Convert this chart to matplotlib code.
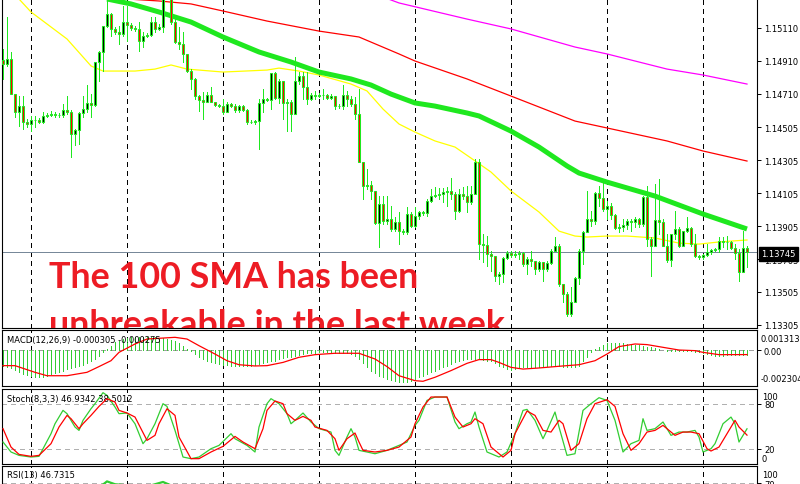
import numpy as np
import matplotlib
matplotlib.use("Agg")
import matplotlib.pyplot as plt

# ---------------- data ----------------
first_open = 1.14915
closes = [1.14891, 1.14921, 1.14708, 1.14599, 1.14635, 1.14538, 1.14526, 1.14550, 1.14550, 1.14538,
          1.14575, 1.14581, 1.14587, 1.14581, 1.14581, 1.14611, 1.14599, 1.14465, 1.14490, 1.14593,
          1.14617, 1.14654, 1.14642, 1.14903, 1.14964, 1.15122, 1.15195, 1.15104, 1.15085, 1.15073,
          1.15146, 1.15128, 1.15110, 1.15104, 1.15031, 1.15061, 1.15067, 1.15146, 1.15104, 1.15116,
          1.15335, 1.15359, 1.15146, 1.15025, 1.15012, 1.14952, 1.14848, 1.14800, 1.14696, 1.14672,
          1.14660, 1.14702, 1.14660, 1.14642, 1.14635, 1.14599, 1.14648, 1.14635, 1.14611, 1.14635,
          1.14611, 1.14538, 1.14538, 1.14544, 1.14654, 1.14678, 1.14672, 1.14836, 1.14684, 1.14787,
          1.14654, 1.14660, 1.14587, 1.14787, 1.14818, 1.14751, 1.14678, 1.14702, 1.14696, 1.14702,
          1.14702, 1.14684, 1.14696, 1.14635, 1.14635, 1.14702, 1.14678, 1.14648, 1.14587, 1.14295,
          1.14149, 1.14155, 1.14119, 1.13924, 1.14040, 1.13936, 1.13948, 1.13888, 1.13930, 1.13875,
          1.13869, 1.13979, 1.13906, 1.13967, 1.13991, 1.13985, 1.14058, 1.14088, 1.14094, 1.14100,
          1.14113, 1.14119, 1.14100, 1.13997, 1.14100, 1.14088, 1.14052, 1.14100, 1.14295, 1.13796,
          1.13790, 1.13736, 1.13723, 1.13602, 1.13614, 1.13711, 1.13742, 1.13730, 1.13736, 1.13742,
          1.13675, 1.13705, 1.13693, 1.13644, 1.13687, 1.13644, 1.13681, 1.13754, 1.13784, 1.13553,
          1.13492, 1.13371, 1.13444, 1.13590, 1.13754, 1.13869, 1.13948, 1.13936, 1.14106, 1.14076,
          1.14009, 1.14027, 1.13973, 1.13894, 1.13900, 1.13912, 1.13936, 1.13930, 1.13948, 1.13918,
          1.14082, 1.13827, 1.13784, 1.13942, 1.13930, 1.13784, 1.13699, 1.13857, 1.13888, 1.13784,
          1.13875, 1.13894, 1.13796, 1.13723, 1.13717, 1.13730, 1.13748, 1.13760, 1.13766, 1.13815,
          1.13809, 1.13809, 1.13772, 1.13742, 1.13626, 1.13772, 1.13745]
highs = [1.14982, 1.15177, 1.14964, 1.14708, 1.14696, 1.14696, 1.14556, 1.14575, 1.14575, 1.14562,
         1.14599, 1.14593, 1.14605, 1.14599, 1.14593, 1.14648, 1.14696, 1.14611, 1.14496, 1.14599,
         1.14696, 1.14763, 1.14708, 1.14903, 1.14970, 1.15122, 1.15286, 1.15201, 1.15116, 1.15122,
         1.15243, 1.15243, 1.15140, 1.15122, 1.15146, 1.15085, 1.15079, 1.15177, 1.15177, 1.15134,
         1.15377, 1.15408, 1.15347, 1.15177, 1.15116, 1.15085, 1.14952, 1.14860, 1.14806, 1.14702,
         1.14721, 1.14721, 1.14751, 1.14660, 1.14648, 1.14678, 1.14660, 1.14654, 1.14648, 1.14642,
         1.14642, 1.14617, 1.14550, 1.14550, 1.14678, 1.14739, 1.14684, 1.14836, 1.14842, 1.14800,
         1.14781, 1.14678, 1.14672, 1.14933, 1.14842, 1.14842, 1.14842, 1.14714, 1.14727, 1.14714,
         1.14739, 1.14708, 1.14708, 1.14690, 1.14648, 1.14763, 1.14727, 1.14696, 1.14690, 1.14739,
         1.14295, 1.14252, 1.14179, 1.14119, 1.14088, 1.14088, 1.14088, 1.14027, 1.13961, 1.13991,
         1.13888, 1.14021, 1.13991, 1.14021, 1.13997, 1.13997, 1.14070, 1.14131, 1.14143, 1.14137,
         1.14137, 1.14143, 1.14198, 1.14113, 1.14131, 1.14143, 1.14149, 1.14149, 1.14313, 1.14313,
         1.13857, 1.13845, 1.13754, 1.13723, 1.13626, 1.13717, 1.13754, 1.13754, 1.13754, 1.13754,
         1.13748, 1.13717, 1.13754, 1.13693, 1.13693, 1.13687, 1.13693, 1.13766, 1.13839, 1.13796,
         1.13553, 1.13505, 1.13535, 1.13596, 1.13766, 1.13875, 1.14119, 1.13997, 1.14113, 1.14149,
         1.14173, 1.14058, 1.14046, 1.13979, 1.13918, 1.13948, 1.13948, 1.13948, 1.13961, 1.13954,
         1.14088, 1.14149, 1.13839, 1.14161, 1.14192, 1.13948, 1.13857, 1.13857, 1.13997, 1.13900,
         1.13875, 1.13961, 1.13900, 1.13857, 1.13730, 1.13736, 1.13796, 1.13766, 1.13772, 1.13839,
         1.13839, 1.13845, 1.13815, 1.13796, 1.13766, 1.13875, 1.13784]
lows = [1.14800, 1.14879, 1.14708, 1.14569, 1.14514, 1.14496, 1.14508, 1.14483, 1.14508, 1.14532,
        1.14532, 1.14569, 1.14575, 1.14569, 1.14569, 1.14569, 1.14587, 1.14325, 1.14398, 1.14404,
        1.14569, 1.14599, 1.14569, 1.14635, 1.14787, 1.14848, 1.15116, 1.15061, 1.15073, 1.15012,
        1.15061, 1.15031, 1.15098, 1.15091, 1.14970, 1.14994, 1.15055, 1.15061, 1.15085, 1.15098,
        1.15085, 1.15298, 1.15134, 1.15018, 1.14982, 1.14903, 1.14842, 1.14739, 1.14678, 1.14605,
        1.14556, 1.14666, 1.14660, 1.14635, 1.14629, 1.14587, 1.14629, 1.14629, 1.14599, 1.14599,
        1.14605, 1.14526, 1.14532, 1.14526, 1.14374, 1.14599, 1.14666, 1.14617, 1.14678, 1.14654,
        1.14556, 1.14483, 1.14483, 1.14587, 1.14769, 1.14678, 1.14648, 1.14672, 1.14678, 1.14690,
        1.14678, 1.14678, 1.14678, 1.14617, 1.14623, 1.14617, 1.14635, 1.14635, 1.14556, 1.14295,
        1.14070, 1.14131, 1.14070, 1.13918, 1.13778, 1.13918, 1.13918, 1.13875, 1.13875, 1.13796,
        1.13857, 1.13857, 1.13900, 1.13900, 1.13948, 1.13973, 1.13967, 1.14052, 1.14082, 1.14070,
        1.14052, 1.14027, 1.14070, 1.13948, 1.13991, 1.14070, 1.13991, 1.14040, 1.14100, 1.13705,
        1.13687, 1.13663, 1.13632, 1.13571, 1.13553, 1.13565, 1.13705, 1.13717, 1.13717, 1.13705,
        1.13663, 1.13614, 1.13663, 1.13614, 1.13632, 1.13571, 1.13632, 1.13675, 1.13754, 1.13541,
        1.13444, 1.13359, 1.13359, 1.13444, 1.13553, 1.13675, 1.13869, 1.13906, 1.13918, 1.14027,
        1.13997, 1.13948, 1.13948, 1.13888, 1.13869, 1.13875, 1.13888, 1.13875, 1.13900, 1.13900,
        1.13906, 1.13784, 1.13602, 1.13784, 1.13857, 1.13784, 1.13687, 1.13663, 1.13827, 1.13778,
        1.13784, 1.13869, 1.13784, 1.13717, 1.13705, 1.13705, 1.13723, 1.13736, 1.13754, 1.13748,
        1.13778, 1.13766, 1.13766, 1.13705, 1.13571, 1.13626, 1.13657]

# moving averages (bar index, value)
sma100_idx = [20, 26, 32, 39, 47, 55, 64, 72, 79, 87, 92, 97, 103, 108, 116, 119, 127, 134, 141, 144, 151, 163, 175, 186]
sma100_val = [1.15322, 1.15286, 1.15256, 1.15207, 1.15146, 1.15055, 1.14964, 1.14903, 1.14842, 1.14800, 1.14763, 1.14708,
              1.14654, 1.14635, 1.14593, 1.14575, 1.14483, 1.14386, 1.14271, 1.14228, 1.14173, 1.14088, 1.13979, 1.13888]
sma50_idx = [0, 4, 7, 16, 22, 25, 33, 38, 42, 46, 55, 66, 69, 74, 79, 87, 91, 95, 99, 103, 108, 113, 117, 122, 127,
             134, 139, 143, 146, 151, 156, 163, 169, 174, 179, 186]
sma50_val = [1.15365, 1.15286, 1.15207, 1.15043, 1.14879, 1.14848, 1.14848, 1.14860, 1.14885, 1.14860, 1.14842, 1.14854,
             1.14866, 1.14848, 1.14824, 1.14769, 1.14727, 1.14617, 1.14526, 1.14477, 1.14423, 1.14386, 1.14319, 1.14234,
             1.14119, 1.13991, 1.13875, 1.13845, 1.13839, 1.13845, 1.13845, 1.13833, 1.13802, 1.13796, 1.13809, 1.13821]
sma200_idx = [20, 31, 39, 47, 55, 66, 79, 89, 99, 103, 116, 127, 143, 151, 166, 175, 186]
sma200_val = [1.15335, 1.15286, 1.15274, 1.15256, 1.15213, 1.15152, 1.15091, 1.15055, 1.14952, 1.14909, 1.14800,
              1.14696, 1.14544, 1.14502, 1.14423, 1.14362, 1.14301]
sma_long_idx = [85, 95, 99, 116, 127, 143, 151, 166, 175, 186]
sma_long_val = [1.15359, 1.15298, 1.15262, 1.15164, 1.15104, 1.14994, 1.14952, 1.14860, 1.14824, 1.14769]

price_ticks = [1.15110, 1.14910, 1.14710, 1.14505, 1.14305, 1.14105, 1.13905, 1.13705, 1.13505, 1.13305]
last_price = 1.13745
day_sep_bars = [7, 31, 55, 79, 103, 127, 151, 175]

# MACD histogram (main line) per bar, and signal line knots
macd_main = [-0.00099, -0.00105, -0.00114, -0.00127, -0.00142, -0.00153, -0.00157, -0.00164, -0.00170, -0.00174,
             -0.00170, -0.00164, -0.00153, -0.00149, -0.00142, -0.00131, -0.00121, -0.00114, -0.00105, -0.00099,
             -0.00093, -0.00084, -0.00071, -0.00056, -0.00034, -0.00013, 0.00009, 0.00030, 0.00052, 0.00062,
             0.00073, 0.00080, 0.00084, 0.00084, 0.00084, 0.00084, 0.00084, 0.00084, 0.00084, 0.00080,
             0.00080, 0.00073, 0.00067, 0.00058, 0.00045, 0.00030, 0.00009, -0.00002, -0.00024, -0.00045,
             -0.00056, -0.00067, -0.00078, -0.00084, -0.00088, -0.00093, -0.00093, -0.00099, -0.00099, -0.00099,
             -0.00099, -0.00099, -0.00099, -0.00093, -0.00088, -0.00084, -0.00078, -0.00071, -0.00067, -0.00056,
             -0.00050, -0.00045, -0.00041, -0.00034, -0.00028, -0.00024, -0.00019, -0.00017, -0.00015, -0.00013,
             -0.00013, -0.00013, -0.00015, -0.00019, -0.00019, -0.00019, -0.00019, -0.00024, -0.00034, -0.00056,
             -0.00084, -0.00110, -0.00131, -0.00149, -0.00164, -0.00174, -0.00185, -0.00192, -0.00196, -0.00207,
             -0.00207, -0.00207, -0.00196, -0.00185, -0.00174, -0.00164, -0.00153, -0.00142, -0.00131, -0.00121,
             -0.00110, -0.00099, -0.00088, -0.00078, -0.00067, -0.00062, -0.00056, -0.00056, -0.00056, -0.00056,
             -0.00062, -0.00067, -0.00071, -0.00084, -0.00099, -0.00110, -0.00121, -0.00127, -0.00121, -0.00110,
             -0.00110, -0.00105, -0.00105, -0.00105, -0.00105, -0.00099, -0.00099, -0.00099, -0.00099, -0.00099,
             -0.00105, -0.00110, -0.00110, -0.00105, -0.00099, -0.00067, -0.00045, -0.00013, 0.00009, 0.00024,
             0.00037, 0.00045, 0.00047, 0.00047, 0.00047, 0.00045, 0.00041, 0.00037, 0.00037, 0.00037,
             0.00030, 0.00024, 0.00019, 0.00015, 0.00009, 0.00002, -0.00002, -0.00002, -0.00002, -0.00002,
             -0.00002, -0.00002, -0.00006, -0.00013, -0.00013, -0.00019, -0.00024, -0.00028, -0.00034, -0.00034,
             -0.00034, -0.00030, -0.00028, -0.00028, -0.00028, -0.00028, -0.000305]
macd_sig_idx = [0, 3, 8, 11, 16, 21, 24, 27, 29, 33, 36, 43, 46, 49, 53, 56, 59, 63, 66, 70, 74, 78, 83, 89, 93,
                96, 99, 103, 105, 108, 112, 116, 119, 122, 124, 127, 130, 134, 139, 144, 148, 151, 154, 158, 161,
                166, 169, 173, 175, 179, 186]
macd_sig_val = [-0.00099, -0.00099, -0.00142, -0.00164, -0.00164, -0.00142, -0.00105, -0.00067, -0.00013, 0.00041,
                0.00073, 0.00084, 0.00073, 0.00030, -0.00024, -0.00067, -0.00093, -0.00101, -0.00099, -0.00078,
                -0.00045, -0.00028, -0.00019, -0.00019, -0.00056, -0.00105, -0.00164, -0.00196, -0.00200, -0.00174,
                -0.00131, -0.00084, -0.00060, -0.00060, -0.00078, -0.00110, -0.00121, -0.00114, -0.00103, -0.00093,
                -0.00067, -0.00024, 0.00024, 0.00041, 0.00037, 0.00015, 0.00002, -0.00002, -0.00013, -0.00028,
                -0.000275]
macd_max, macd_min = 0.001313, -0.002304

# Stochastic knots
stoch_k_idx = [0, 2, 4, 7, 9, 12, 13, 15, 16, 18, 19, 20, 22, 23, 25, 26, 28, 29, 31, 33, 35, 36, 38, 40, 41, 43,
               45, 47, 49, 52, 54, 57, 58, 61, 63, 64, 66, 67, 69, 71, 72, 73, 75, 77, 79, 82, 83, 84, 86, 87, 88,
               89, 91, 93, 96, 98, 99, 101, 103, 104, 106, 108, 111, 113, 114, 116, 117, 118, 119, 121, 124, 126,
               128, 130, 131, 133, 135, 136, 138, 139, 141, 143, 145, 147, 149, 151, 153, 155, 157, 159, 160, 161,
               163, 165, 167, 169, 171, 173, 174, 175, 177, 178, 180, 182, 183, 184, 186]
stoch_k_val = [29.3, 16.0, 11.5, 9.3, 10.2, 40.4, 53.7, 71.5, 67.1, 49.3, 44.8, 58.2, 73.7, 80.4, 95.1, 91.5, 76.0,
               67.1, 68.0, 53.7, 27.1, 33.7, 53.7, 80.4, 76.8, 44.8, 9.3, 7.1, 9.3, 20.4, 24.8, 40.4, 33.7, 24.8,
               16.0, 49.3, 80.4, 87.1, 80.4, 67.1, 53.7, 58.2, 68.0, 56.0, 47.1, 42.6, 18.2, 11.5, 36.0, 47.1, 36.0,
               18.2, 16.0, 13.7, 18.2, 22.6, 24.8, 29.3, 51.5, 58.2, 84.8, 89.3, 89.3, 56.0, 47.1, 53.7, 56.0, 69.3,
               49.3, 16.0, 9.3, 16.0, 40.4, 71.5, 72.8, 58.2, 33.7, 44.8, 69.3, 49.3, 11.5, 13.7, 71.5, 80.4, 88.4,
               84.8, 58.2, 16.0, 27.1, 31.5, 60.4, 44.8, 47.1, 56.0, 38.2, 42.6, 42.6, 44.8, 36.0, 16.0, 20.4, 27.1,
               53.7, 62.6, 53.7, 29.3, 46.9342]
stoch_d_idx = [0, 2, 4, 7, 9, 12, 14, 16, 17, 19, 20, 22, 24, 26, 28, 29, 31, 33, 36, 38, 39, 41, 43, 44, 47, 49,
               52, 55, 58, 60, 63, 65, 66, 68, 70, 71, 73, 75, 77, 78, 81, 83, 84, 86, 88, 89, 90, 93, 96, 99, 102,
               103, 105, 107, 111, 113, 115, 117, 118, 120, 122, 125, 127, 128, 131, 133, 135, 137, 139, 140, 142,
               144, 146, 148, 151, 153, 155, 157, 159, 161, 163, 165, 168, 170, 172, 174, 176, 177, 179, 181, 183,
               184, 186]
stoch_d_val = [47.1, 22.6, 12.8, 10.2, 11.5, 27.1, 49.3, 64.8, 60.4, 47.1, 53.7, 64.8, 76.8, 87.1, 82.6, 71.5, 68.0,
               62.6, 31.5, 38.2, 53.7, 73.7, 64.8, 36.0, 7.1, 7.1, 16.0, 23.5, 36.8, 29.3, 20.4, 47.1, 71.5, 84.0,
               80.4, 67.1, 58.2, 63.5, 58.2, 49.3, 44.8, 33.7, 18.2, 33.7, 41.3, 29.3, 18.2, 16.0, 18.2, 22.6, 36.0,
               53.7, 76.0, 89.3, 89.3, 62.6, 49.3, 53.7, 60.4, 53.7, 22.6, 9.3, 18.2, 40.4, 70.6, 64.8, 44.8, 42.6,
               58.2, 53.7, 18.2, 27.1, 60.4, 80.4, 85.7, 76.8, 40.4, 18.2, 27.1, 42.6, 44.8, 51.5, 38.2, 42.6, 42.6,
               40.4, 20.4, 17.3, 22.6, 40.4, 58.2, 49.3, 38.5012]

# RSI knots
rsi_idx = [0, 6, 12, 17, 22, 24, 26, 28, 31, 34, 37, 40, 42, 46, 50, 56, 61, 64, 67, 72, 77, 82, 86, 88, 90, 95,
           100, 106, 112, 116, 118, 120, 124, 131, 137, 141, 145, 148, 152, 156, 160, 163, 166, 170, 175, 179, 184, 186]
rsi_val = [52, 38, 36, 34, 45, 62, 73, 68, 66, 60, 66, 72, 66, 45, 40, 36, 32, 48, 55, 42, 48, 44, 47, 40, 24, 26,
           28, 48, 55, 50, 60, 28, 26, 34, 38, 22, 45, 60, 56, 52, 58, 54, 44, 48, 42, 50, 38, 46.7315]

title_lines = ["The 100 SMA has been", "unbreakable in the last week"]

# ---------------- styling ----------------
CANDLE = "#1FE81F"
IND_GREEN = "#32CD32"
RED = "#FF0000"
W, H, DPI = 800, 485, 100
THIN = 0.5  # one device pixel for non-antialiased lines
LABEL_FONT = dict(family="DejaVu Sans", fontsize=6.0, color="black")

fig = plt.figure(figsize=(W / DPI, H / DPI), dpi=DPI)
fig.patch.set_facecolor("white")


def add_panel(top, bottom):
    return fig.add_axes([2 / W, 1 - bottom / H, 755 / W, (bottom - top) / H])


ax = add_panel(0, 329)
ax_macd = add_panel(331, 387)
ax_st = add_panel(390, 465)
ax_rsi = add_panel(467, 524)
XL = (-0.25, 188.5)

for a in (ax, ax_macd, ax_st, ax_rsi):
    a.set_xlim(*XL)
    a.set_facecolor("white")
    a.set_xticks([])
    for s in a.spines.values():
        s.set_color("black")
        s.set_linewidth(0.8)
    a.yaxis.tick_right()
    a.tick_params(axis="y", length=3, width=0.7, direction="out", pad=2,
                  labelsize=6.0, colors="black")
    for b in day_sep_bars:
        a.axvline(b, color="black", lw=THIN, ls=(0, (6, 6)), zorder=1, antialiased=False)
ax.spines["top"].set_visible(False)

# ---------------- main price panel ----------------
ax.set_ylim(1.13286, 1.15286)
ax.set_yticks(price_ticks)
ax.set_yticklabels([f"{v:.5f}" for v in price_ticks], family="DejaVu Sans")

n = len(closes)
xs = np.arange(n)
c = np.array(closes)
o = np.array([first_open] + closes[:-1])
hi = np.maximum.reduce([np.array(highs), o, c])
lo = np.minimum.reduce([np.array(lows), o, c])

ax.axhline(last_price, color="#778899", lw=THIN, zorder=2, antialiased=False)
ax.plot(sma200_idx, sma200_val, color=RED, lw=0.9, zorder=3)
ax.plot(sma_long_idx, sma_long_val, color="#FF00FF", lw=0.9, zorder=3)
ax.plot(sma50_idx, sma50_val, color="#FFFF00", lw=0.9, zorder=3)
ax.plot(sma100_idx, sma100_val, color=CANDLE, lw=3.6, solid_capstyle="butt", zorder=3)

ax.vlines(xs, lo, hi, color=CANDLE, lw=THIN, zorder=4, antialiased=False)
body_lo = np.minimum(o, c)
body_h = np.maximum(np.abs(c - o), 0.00002)
fills = np.where(c >= o, "black", RED)
ax.bar(xs, body_h, bottom=body_lo, width=0.5, color=fills, edgecolor=CANDLE,
       linewidth=0.75, zorder=5)

# title text (clipped by the price panel like the original)
t_kw = dict(transform=ax.transAxes, color="#ED1C24", fontweight="bold",
            family="Lato", va="baseline", ha="left", clip_on=True, zorder=10)
t1 = ax.text((49 - 2) / 755, (329 - 288) / 329, title_lines[0], fontsize=27, **t_kw)
t2 = ax.text((49 - 2) / 755, (329 - 336) / 329, title_lines[1], fontsize=27, **t_kw)
fig.canvas.draw()
w1 = t1.get_window_extent().width
scale = 369.0 / w1
t1.set_fontsize(27 * scale)
t2.set_fontsize(27 * scale)

# price box
fig.text(761 / W, 1 - 254.5 / H, f"{last_price:.5f}", color="white", fontsize=6.0,
         family="DejaVu Sans", va="center", ha="left", zorder=20,
         bbox=dict(boxstyle="square,pad=0.3", fc="black", ec="black"))

# ---------------- MACD panel ----------------
ax_macd.set_ylim(macd_min, macd_max)
ax_macd.axhline(0, color="#A0A0A0", lw=THIN, ls=(0, (6, 6)), zorder=1, antialiased=False)
ax_macd.vlines(xs, 0, macd_main, color=IND_GREEN, lw=THIN, zorder=2, antialiased=False)
ax_macd.plot(macd_sig_idx, macd_sig_val, color=RED, lw=0.9, zorder=3)
ax_macd.set_yticks([0])
ax_macd.set_yticklabels(["0.00"], family="DejaVu Sans")
ax_macd.annotate(f"{macd_max:.6f}", xy=(1.0, 1.0), xycoords="axes fraction",
                 xytext=(4, -4), textcoords="offset pixels", ha="left", va="top", **LABEL_FONT)
ax_macd.annotate(f"{macd_min:.6f}", xy=(1.0, 0.0), xycoords="axes fraction",
                 xytext=(4, 3), textcoords="offset pixels", ha="left", va="bottom", **LABEL_FONT)
ax_macd.annotate(f"MACD(12,26,9) {macd_main[-1]:.6f} {macd_sig_val[-1]:.6f}", xy=(0, 1),
                 xycoords="axes fraction", xytext=(5, -5), textcoords="offset pixels",
                 ha="left", va="top", **LABEL_FONT)

# ---------------- Stochastic panel ----------------
ax_st.set_ylim(0, 100)
for lv in (20, 80):
    ax_st.axhline(lv, color="#B0B0B0", lw=THIN, ls=(0, (6, 6)), zorder=1, antialiased=False)
ax_st.plot(stoch_k_idx, stoch_k_val, color=IND_GREEN, lw=0.9, zorder=3)
ax_st.plot(stoch_d_idx, stoch_d_val, color=RED, lw=0.9, zorder=4)
ax_st.set_yticks([20, 80])
ax_st.set_yticklabels(["20", "80"], family="DejaVu Sans")
ax_st.annotate("100", xy=(1.0, 1.0), xycoords="axes fraction", xytext=(5, -3),
               textcoords="offset pixels", ha="left", va="top", **LABEL_FONT)
ax_st.annotate("0", xy=(1.0, 0.0), xycoords="axes fraction", xytext=(5, 1),
               textcoords="offset pixels", ha="left", va="bottom", **LABEL_FONT)
ax_st.annotate(f"Stoch(8,3,3) {stoch_k_val[-1]:.4f} {stoch_d_val[-1]:.4f}", xy=(0, 1),
               xycoords="axes fraction", xytext=(5, -5), textcoords="offset pixels",
               ha="left", va="top", **LABEL_FONT)

# ---------------- RSI panel ----------------
ax_rsi.set_ylim(0, 100)
for lv in (30, 70):
    ax_rsi.axhline(lv, color="#B0B0B0", lw=THIN, ls=(0, (6, 6)), zorder=1, antialiased=False)
ax_rsi.plot(rsi_idx, rsi_val, color=IND_GREEN, lw=1.6, zorder=3)
ax_rsi.set_yticks([70])
ax_rsi.set_yticklabels(["70"], family="DejaVu Sans")
ax_rsi.annotate("100", xy=(1.0, 1.0), xycoords="axes fraction", xytext=(5, -4),
                textcoords="offset pixels", ha="left", va="top", **LABEL_FONT)
ax_rsi.annotate(f"RSI(13) {rsi_val[-1]:.4f}", xy=(0, 1), xycoords="axes fraction",
                xytext=(5, -4), textcoords="offset pixels", ha="left", va="top", **LABEL_FONT)

fig.savefig("out.png", dpi=DPI, facecolor="white")
